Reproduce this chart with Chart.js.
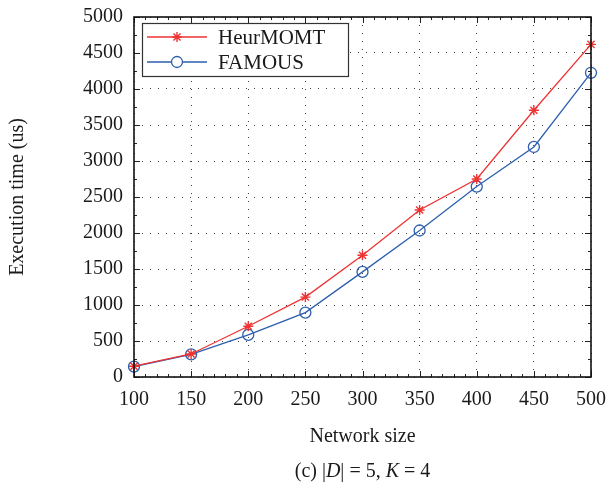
<!DOCTYPE html>
<html>
<head>
<meta charset="utf-8">
<script src="https://cdn.jsdelivr.net/npm/chart.js@4.4.1/dist/chart.umd.min.js"></script>
<style>
  html, body { margin: 0; padding: 0; background: #fff; }
  #wrap { width: 612px; height: 488px; }
</style>
</head>
<body>
<div id="wrap"><canvas id="chart" width="612" height="488"></canvas></div>
<script>
// Network sizes on the x axis
const networkSizes = [100, 150, 200, 250, 300, 350, 400, 450, 500];
// Execution time (us) per method
const heurMomt = [150, 320, 705, 1110, 1690, 2320, 2750, 3705, 4620];
const famous   = [145, 315, 585, 895, 1460, 2035, 2645, 3195, 4225];

const serif = "'Liberation Serif', 'Times New Roman', serif";
const red = '#ee3333';
const blue = '#2d5fae';

const toPoints = (ys) => networkSizes.map((x, i) => ({ x: x, y: ys[i] }));

// frame, inward ticks, legend box, axis titles and caption
const decorations = {
    id: 'decorations',
    afterDraw(chart) {
        const ctx = chart.ctx;
        const a = chart.chartArea;
        const xs = chart.scales.x;
        const ys = chart.scales.y;
        ctx.save();

        // ticks pointing inward on all four sides
        ctx.strokeStyle = '#222';
        ctx.lineWidth = 1;
        ctx.beginPath();
        for (let v = 100; v <= 500; v += 10) {
            const px = Math.round(xs.getPixelForValue(v)) + 0.5;
            const len = v % 50 === 0 ? 6 : 3;
            ctx.moveTo(px, a.bottom); ctx.lineTo(px, a.bottom - len);
            ctx.moveTo(px, a.top); ctx.lineTo(px, a.top + len);
        }
        for (let v = 0; v <= 5000; v += 250) {
            const py = Math.round(ys.getPixelForValue(v)) + 0.5;
            const len = v % 500 === 0 ? 6 : 3;
            ctx.moveTo(a.left, py); ctx.lineTo(a.left + len, py);
            ctx.moveTo(a.right, py); ctx.lineTo(a.right - len, py);
        }
        ctx.stroke();

        // plot frame
        ctx.lineWidth = 1.6;
        ctx.strokeStyle = '#111';
        ctx.strokeRect(a.left, a.top, a.right - a.left, a.bottom - a.top);

        // legend
        const lx = a.left + 8, ly = a.top + 6, lw = 206, lh = 53;
        ctx.fillStyle = '#fff';
        ctx.fillRect(lx, ly, lw, lh);
        ctx.lineWidth = 1.2;
        ctx.strokeStyle = '#333';
        ctx.strokeRect(lx + 0.5, ly + 0.5, lw, lh);
        chart.data.datasets.forEach((ds, i) => {
            const rowY = ly + 14 + i * 25;
            ctx.strokeStyle = ds.borderColor;
            ctx.lineWidth = ds.borderWidth;
            ctx.beginPath();
            ctx.moveTo(lx + 5, rowY);
            ctx.lineTo(lx + 65, rowY);
            ctx.stroke();
            ctx.fillStyle = '#fff';
            ctx.strokeStyle = ds.pointBorderColor;
            ctx.lineWidth = ds.pointBorderWidth;
            Chart.helpers.drawPoint(ctx, {
                pointStyle: ds.pointStyle,
                radius: ds.pointRadius,
                borderWidth: ds.pointBorderWidth,
                rotation: 0
            }, lx + 35, rowY);
            ctx.fillStyle = '#1a1a1a';
            ctx.font = '21px ' + serif;
            ctx.textAlign = 'left';
            ctx.textBaseline = 'middle';
            ctx.fillText(ds.label, lx + 76, rowY + 1);
        });

        // axis titles
        const cx = (a.left + a.right) / 2;
        ctx.fillStyle = '#1a1a1a';
        ctx.font = '20px ' + serif;
        ctx.textAlign = 'center';
        ctx.textBaseline = 'middle';
        ctx.fillText('Network size', cx, 437);

        ctx.save();
        ctx.translate(18, (a.top + a.bottom) / 2);
        ctx.rotate(-Math.PI / 2);
        ctx.fillText('Execution time (us)', 0, 0);
        ctx.restore();

        // caption with italic symbols
        const parts = [
            ['(c) |', false], ['D', true], ['| = 5, ', false], ['K', true], [' = 4', false]
        ];
        const fontOf = (it) => (it ? 'italic ' : '') + '20px ' + serif;
        let total = 0;
        parts.forEach(p => { ctx.font = fontOf(p[1]); total += ctx.measureText(p[0]).width; });
        let x = cx - total / 2;
        ctx.textAlign = 'left';
        parts.forEach(p => {
            ctx.font = fontOf(p[1]);
            ctx.fillText(p[0], x, 472);
            x += ctx.measureText(p[0]).width;
        });

        ctx.restore();
    }
};

new Chart(document.getElementById('chart'), {
    type: 'line',
    plugins: [decorations],
    data: {
        datasets: [
            {
                label: 'HeurMOMT',
                data: toPoints(heurMomt),
                borderColor: red,
                backgroundColor: red,
                borderWidth: 1.3,
                pointStyle: 'star',
                pointRadius: 5,
                pointBorderWidth: 1.4,
                pointBorderColor: red,
                tension: 0,
                clip: false
            },
            {
                label: 'FAMOUS',
                data: toPoints(famous),
                borderColor: blue,
                backgroundColor: 'rgba(0,0,0,0)',
                borderWidth: 1.3,
                pointStyle: 'circle',
                pointRadius: 5.5,
                pointBorderWidth: 1.3,
                pointBorderColor: blue,
                tension: 0,
                clip: false
            }
        ]
    },
    options: {
        responsive: false,
        animation: false,
        layout: { padding: { top: 17, right: 21, bottom: 0, left: 0 } },
        plugins: {
            legend: { display: false },
            tooltip: false
        },
        scales: {
            x: {
                type: 'linear',
                min: 100,
                max: 500,
                afterFit: (s) => { s.height = 111; s.paddingLeft = 0; s.paddingRight = 0; },
                ticks: {
                    stepSize: 50,
                    padding: 11,
                    color: '#1a1a1a',
                    font: { family: serif, size: 20 },
                    maxRotation: 0,
                    callback: (v) => String(v)
                },
                grid: { color: '#444', lineWidth: 1, drawTicks: false },
                border: { display: false, dash: [1, 7] }
            },
            y: {
                min: 0,
                max: 5000,
                afterFit: (s) => { s.width = 134; s.paddingTop = 0; s.paddingBottom = 0; },
                ticks: {
                    stepSize: 500,
                    padding: 11,
                    color: '#1a1a1a',
                    font: { family: serif, size: 20 },
                    callback: (v) => String(v)
                },
                grid: { color: '#444', lineWidth: 1, drawTicks: false },
                border: { display: false, dash: [1, 7] }
            }
        }
    }
});
</script>
</body>
</html>
